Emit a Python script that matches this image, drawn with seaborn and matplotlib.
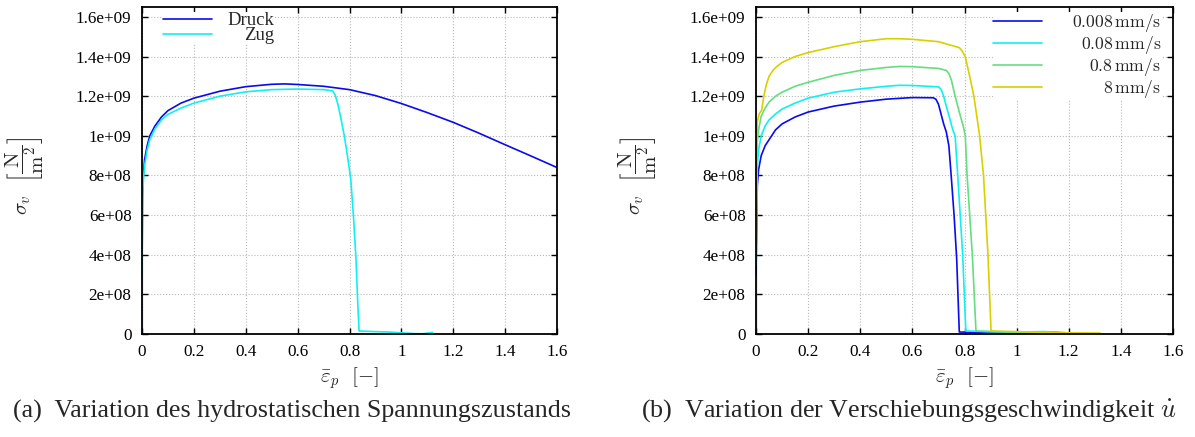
import numpy as np
import pandas as pd
import seaborn as sns
import matplotlib.pyplot as plt

# plastic strain and von Mises stress (stress in 1e9 N/m^2)
druck_x = [0, 0.0, 0.002, 0.005, 0.01, 0.02, 0.03, 0.05, 0.075, 0.1, 0.15, 0.2, 0.3, 0.4, 0.5, 0.55,
           0.6, 0.7, 0.8, 0.9, 1.0, 1.1, 1.2, 1.3, 1.4, 1.5, 1.6]
druck_y = [0, 0.6, 0.7, 0.8, 0.88, 0.95, 1.0, 1.05, 1.095, 1.127, 1.165, 1.19, 1.225, 1.248, 1.26, 1.262,
           1.259, 1.25, 1.233, 1.203, 1.163, 1.117, 1.068, 1.013, 0.955, 0.898, 0.84]

zug_x = [0, 0.0, 0.002, 0.005, 0.01, 0.02, 0.03, 0.05, 0.075, 0.1, 0.15, 0.2, 0.3, 0.4, 0.5, 0.6, 0.7,
         0.735, 0.745, 0.755, 0.765, 0.78, 0.792, 0.805, 0.815, 0.825, 0.832, 0.837, 0.9, 0.95, 1.0,
         1.05, 1.08, 1.12]
zug_y = [0, 0.6, 0.68, 0.77, 0.85, 0.93, 0.98, 1.035, 1.08, 1.108, 1.14, 1.165, 1.2, 1.222, 1.233, 1.236,
         1.233, 1.227, 1.205, 1.16, 1.1, 1.0, 0.9, 0.78, 0.6, 0.38, 0.15, 0.015, 0.012, 0.01, 0.006,
         0.002, 0.001, 0.008]

rate_labels = [r'$0.008\,\mathrm{mm/s}$', r'$0.08\,\mathrm{mm/s}$', r'$0.8\,\mathrm{mm/s}$', r'$8\,\mathrm{mm/s}$']
rate_colors = ['#0a0aee', '#10f0f0', '#66dd80', '#d8d000']

v1_x = [0, 0.0, 0.005, 0.01, 0.02, 0.035, 0.05, 0.075, 0.1, 0.15, 0.2, 0.3, 0.4, 0.5, 0.6, 0.68, 0.69,
        0.70, 0.71, 0.72, 0.73, 0.74, 0.75, 0.76, 0.77, 0.78, 0.85, 0.95, 1.05, 1.12, 1.15, 1.2]
v1_y = [0, 0.6, 0.75, 0.83, 0.9, 0.95, 0.98, 1.03, 1.06, 1.095, 1.12, 1.15, 1.17, 1.185, 1.193, 1.192, 1.185,
        1.16, 1.11, 1.06, 1.02, 0.95, 0.78, 0.6, 0.38, 0.01, 0.008, 0.005, 0.005, 0.01, 0.008, 0.003]

v2_x = [0, 0.0, 0.005, 0.01, 0.02, 0.035, 0.05, 0.075, 0.1, 0.15, 0.2, 0.3, 0.4, 0.5, 0.55, 0.6, 0.7,
        0.71, 0.72, 0.73, 0.745, 0.755, 0.764, 0.774, 0.793, 0.805, 0.9, 1.0, 1.1, 1.15, 1.2]
v2_y = [0, 0.7, 0.85, 0.93, 1.0, 1.05, 1.08, 1.11, 1.135, 1.165, 1.19, 1.22, 1.237, 1.25, 1.255, 1.254, 1.247,
        1.235, 1.2, 1.15, 1.08, 1.03, 1.0, 0.8, 0.4, 0.015, 0.012, 0.01, 0.012, 0.01, 0.005]

v3_x = [0, 0.0, 0.005, 0.01, 0.02, 0.035, 0.05, 0.075, 0.1, 0.15, 0.2, 0.3, 0.4, 0.5, 0.55, 0.6, 0.7,
        0.73, 0.74, 0.75, 0.764, 0.78, 0.795, 0.803, 0.81, 0.83, 0.844, 0.9, 1.0, 1.1, 1.2]
v3_y = [0, 0.85, 0.97, 1.03, 1.1, 1.14, 1.17, 1.2, 1.22, 1.25, 1.27, 1.305, 1.33, 1.345, 1.35, 1.349, 1.34,
        1.33, 1.315, 1.28, 1.2, 1.12, 1.05, 1.0, 0.8, 0.4, 0.015, 0.012, 0.01, 0.008, 0.005]

v4_x = [0, 0.0, 0.005, 0.012, 0.022, 0.03, 0.04, 0.05, 0.065, 0.08, 0.1, 0.15, 0.2, 0.3, 0.4, 0.5, 0.55,
        0.6, 0.7, 0.78, 0.79, 0.803, 0.82, 0.836, 0.858, 0.873, 0.89, 0.902, 1.0, 1.1, 1.2, 1.32]
v4_y = [0, 1.0, 1.07, 1.11, 1.13, 1.2, 1.26, 1.3, 1.33, 1.35, 1.37, 1.4, 1.42, 1.45, 1.475, 1.49, 1.49,
        1.487, 1.475, 1.445, 1.43, 1.4, 1.3, 1.2, 1.0, 0.8, 0.4, 0.015, 0.012, 0.008, 0.006, 0.005]

y_ticks = [0, 0.2e9, 0.4e9, 0.6e9, 0.8e9, 1.0e9, 1.2e9, 1.4e9, 1.6e9]
y_ticklabels = ['0', '2e+08', '4e+08', '6e+08', '8e+08', '1e+09', '1.2e+09', '1.4e+09', '1.6e+09']
x_ticks = [0, 0.2, 0.4, 0.6, 0.8, 1.0, 1.2, 1.4, 1.6]
x_ticklabels = ['0', '0.2', '0.4', '0.6', '0.8', '1', '1.2', '1.4', '1.6']

sns.set_style('ticks')
plt.rcParams['font.family'] = ['Liberation Serif', 'DejaVu Serif']
plt.rcParams['mathtext.fontset'] = 'cm'

W, H = 1195, 437
fig = plt.figure(figsize=(W / 100, H / 100), dpi=100)
ax1 = fig.add_axes([142 / W, (H - 334) / H, 415 / W, 327 / H])
ax2 = fig.add_axes([756 / W, (H - 334) / H, 417 / W, 327 / H])


def style(ax):
    ax.set_xlim(0, 1.6)
    ax.set_ylim(0, 1.65e9)
    ax.set_xticks(x_ticks)
    ax.set_xticklabels(x_ticklabels)
    ax.set_yticks(y_ticks)
    ax.set_yticklabels(y_ticklabels)
    ax.tick_params(direction='in', length=4, width=1, top=True, right=True, labelsize=12.3, colors='black', pad=7.5)
    ax.grid(True, linestyle=':', color='#b8b8b8', linewidth=0.8)
    for s in ax.spines.values():
        s.set_linewidth(1.3)
        s.set_color('black')
    ax.set_xlabel(r'$\bar{\varepsilon}_p\ \ [-]$', fontsize=15)
    ax.set_ylabel(r'$\sigma_v\ \ \left[\dfrac{\mathrm{N}}{\mathrm{m}^2}\right]$', fontsize=15)
    ax.xaxis.set_label_coords(0.5, -0.095)
    ax.yaxis.set_label_coords(-0.232, 0.485)


def right_align(leg):
    # gnuplot style: key texts flush right
    r = fig.canvas.get_renderer()
    texts = leg.get_texts()
    widths = [t.get_window_extent(r).width for t in texts]
    for t, w in zip(texts, widths):
        t.set_x(max(widths) - w)


lw = 1.2
df_d = pd.DataFrame({'x': druck_x, 'y': np.array(druck_y) * 1e9})
df_z = pd.DataFrame({'x': zug_x, 'y': np.array(zug_y) * 1e9})
sns.lineplot(data=df_d, x='x', y='y', ax=ax1, sort=False, color='#0a0aee', lw=lw, label='Druck')
sns.lineplot(data=df_z, x='x', y='y', ax=ax1, sort=False, color='#10f0f0', lw=lw, label='Zug')
style(ax1)
leg1 = ax1.legend(loc='upper left', bbox_to_anchor=(21 / 415, 1 - 5 / 327), fontsize=13.5, handlelength=2.6,
                  borderaxespad=0, borderpad=0.0, labelspacing=-0.1, handletextpad=0.85,
                  frameon=True, facecolor='white', edgecolor='none', framealpha=1, fancybox=False)

for xs, ys, lab, c in zip([v1_x, v2_x, v3_x, v4_x], [v1_y, v2_y, v3_y, v4_y], rate_labels, rate_colors):
    df = pd.DataFrame({'x': xs, 'y': np.array(ys) * 1e9})
    sns.lineplot(data=df, x='x', y='y', ax=ax2, sort=False, color=c, lw=lw, label=lab)
style(ax2)
leg2 = ax2.legend(loc='upper right', bbox_to_anchor=((1161 - 756) / 417, 1 - 5 / 327), fontsize=12.7,
                  handlelength=2.75, borderaxespad=0, borderpad=0.0, labelspacing=0.0, handletextpad=1.7,
                  frameon=True, facecolor='white', edgecolor='none', framealpha=1, fancybox=False)

fig.canvas.draw()
right_align(leg1)
right_align(leg2)

fig.text(13 / W, 1 - 411 / H, '(a)  Variation des hydrostatischen Spannungszustands', fontsize=18.7,
         va='center', ha='left')
fig.text(641 / W, 1 - 411 / H, r'(b)  Variation der Verschiebungsgeschwindigkeit $\dot{u}$', fontsize=18.7,
         va='center', ha='left')

fig.savefig('out.png', dpi=100)
